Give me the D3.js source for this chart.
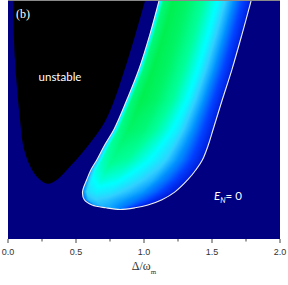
<!DOCTYPE html>
<html>
<head>
<meta charset="utf-8">
<script src="https://cdn.jsdelivr.net/npm/d3@7"></script>
<style>
  body { margin: 0; background: #fff; }
  svg { display: block; }
</style>
</head>
<body>
<svg id="chart" width="288" height="285"></svg>
<script>
// x: detuning Delta/omega_m ; y: normalised vertical position (no labels on that axis)
var xTicks = [0, 0.5, 1.0, 1.5, 2.0],
    xMinorTicks = [0.25, 0.75, 1.25, 1.75];

// black "unstable" region, left and right edges at each level
var unstableLevels = [1.0, 0.755, 0.502, 0.376, 0.291, 0.249],
    unstableLeft = [0.037, 0.051, 0.088, 0.118, 0.176, 0.235],
    unstableRight = [1.007, 0.882, 0.721, 0.566, 0.434, 0.360],
    unstableBottom = [0.294, 0.232];

// E_N > 0 region, white contour edges at each level and peak strength
var enLevels = [1.0, 0.861, 0.713, 0.586, 0.460, 0.397, 0.333, 0.291, 0.249, 0.198, 0.165, 0.143, 0.131],
    enLeft = [1.110, 1.044, 0.963, 0.875, 0.779, 0.713, 0.654, 0.610, 0.579, 0.548, 0.561, 0.618, 0.720],
    enRight = [1.787, 1.721, 1.647, 1.576, 1.508, 1.474, 1.430, 1.382, 1.322, 1.228, 1.132, 1.029, 0.934],
    enPeak = [1.0, 1.0, 1.0, 1.0, 0.95, 0.9, 0.85, 0.8, 0.74, 0.64, 0.55, 0.5, 0.45],
    enBottom = [0.824, 0.124];

// shape of E_N across the band (0 = left contour, 1 = right contour)
var profilePos = [0, 0.05, 0.15, 0.3, 0.5, 0.65, 0.8, 0.9, 1],
    profileVal = [0.55, 0.9, 1.0, 0.95, 0.8, 0.66, 0.42, 0.22, 0.06];

var colorStops = [0, 0.2, 0.4, 0.55, 0.68, 0.82, 1],
    colorList = ['#0010d0', '#0040ff', '#0090ff', '#30d0ff', '#00ffff', '#00ff9a', '#00f050'];

var svg = d3.select('#chart'),
    plotL = 8, plotR = 280, plotT = 1, plotB = 239;

var x = d3.scaleLinear().domain([0, 2]).range([plotL, plotR]),
    y = d3.scaleLinear().domain([0, 1]).range([plotB, plotT]);

var color = d3.scaleLinear().domain(colorStops).range(colorList).clamp(true),
    profile = d3.scaleLinear().domain(profilePos).range(profileVal).clamp(true),
    leftAt = d3.scaleLinear().domain(enLevels).range(enLeft).clamp(true),
    rightAt = d3.scaleLinear().domain(enLevels).range(enRight).clamp(true),
    peakAt = d3.scaleLinear().domain(enLevels).range(enPeak).clamp(true);

var defs = svg.append('defs');
defs.append('clipPath').attr('id', 'plotClip')
    .append('rect')
    .attr('x', plotL).attr('y', plotT)
    .attr('width', plotR - plotL).attr('height', plotB - plotT);

var plot = svg.append('g').attr('clip-path', 'url(#plotClip)');

plot.append('rect')
    .attr('x', plotL).attr('y', plotT)
    .attr('width', plotR - plotL).attr('height', plotB - plotT)
    .style('fill', '#000080');

// outline = left edge going down, bottom point, right edge going up
function outline(levels, lefts, rights, bottomPt) {
    var pts = [];
    levels.forEach(function(l, i) { pts.push([x(lefts[i]), y(l)]); });
    pts.push([x(bottomPt[0]), y(bottomPt[1])]);
    for (var i = levels.length - 1; i >= 0; i--) pts.push([x(rights[i]), y(levels[i])]);
    return pts;
}

var curve = d3.line().curve(d3.curveCatmullRom.alpha(0.5));

var unstablePts = outline(unstableLevels, unstableLeft, unstableRight, unstableBottom);
plot.append('path')
    .attr('d', curve(unstablePts) + 'Z')
    .style('fill', '#000');

// heat map of E_N drawn pixel by pixel, then clipped to the contour
var w = plotR - plotL, h = plotB - plotT,
    canvas = document.createElement('canvas');
canvas.width = w;
canvas.height = h;
var ctx = canvas.getContext('2d'),
    img = ctx.createImageData(w, h);

for (var j = 0; j < h; j++) {
    var yn = y.invert(plotT + j + 0.5),
        L = leftAt(yn), R = rightAt(yn), A = peakAt(yn);
    for (var i = 0; i < w; i++) {
        var d = x.invert(plotL + i + 0.5),
            t = (d - L) / (R - L),
            c = d3.rgb(color(A * profile(t))),
            k = (j * w + i) * 4;
        img.data[k] = c.r;
        img.data[k + 1] = c.g;
        img.data[k + 2] = c.b;
        img.data[k + 3] = 255;
    }
}
ctx.putImageData(img, 0, 0);

var enPts = outline(enLevels, enLeft, enRight, enBottom),
    enPath = curve(enPts);

defs.append('clipPath').attr('id', 'enClip')
    .append('path').attr('d', enPath + 'Z');

plot.append('image')
    .attr('x', plotL).attr('y', plotT)
    .attr('width', w).attr('height', h)
    .attr('preserveAspectRatio', 'none')
    .attr('href', canvas.toDataURL())
    .attr('clip-path', 'url(#enClip)');

plot.append('path')
    .attr('d', enPath)
    .style('fill', 'none')
    .style('stroke', '#f0f0f0')
    .style('stroke-width', '1.1px');

// top border
svg.append('line')
    .attr('x1', plotL).attr('x2', plotR)
    .attr('y1', 0.5).attr('y2', 0.5)
    .style('stroke', '#8a8a8a')
    .style('stroke-width', '1px');

// x axis
var axis = svg.append('g').attr('transform', 'translate(0,' + plotB + ')');
axis.selectAll('.major').data(xTicks).enter().append('line')
    .attr('x1', function(d) { return x(d); }).attr('x2', function(d) { return x(d); })
    .attr('y1', 0).attr('y2', 4)
    .style('stroke', '#444').style('stroke-width', '1px');
axis.selectAll('.minor').data(xMinorTicks).enter().append('line')
    .attr('x1', function(d) { return x(d); }).attr('x2', function(d) { return x(d); })
    .attr('y1', 0).attr('y2', 2.5)
    .style('stroke', '#444').style('stroke-width', '1px');
axis.selectAll('text').data(xTicks).enter().append('text')
    .attr('x', function(d) { return x(d); })
    .attr('y', 16)
    .attr('text-anchor', 'middle')
    .style('font-family', 'Liberation Sans, Arial, sans-serif')
    .style('font-size', '9px')
    .style('fill', '#333')
    .text(function(d) { return d3.format('.1f')(d); });

var title = svg.append('text')
    .attr('x', 144).attr('y', 270)
    .attr('text-anchor', 'middle')
    .style('font-family', 'Liberation Serif, serif')
    .style('font-size', '12px')
    .style('fill', '#333');
title.append('tspan').text('\u0394/\u03c9');
title.append('tspan').attr('dy', 4).style('font-size', '7px').text('m');

// labels inside the plot
svg.append('text')
    .attr('x', 16).attr('y', 18)
    .style('font-family', 'Liberation Serif, serif')
    .style('font-size', '12px')
    .style('fill', '#fff')
    .text('(b)');

svg.append('text')
    .attr('x', 60).attr('y', 81)
    .attr('text-anchor', 'middle')
    .style('font-family', 'Lato, sans-serif')
    .style('font-size', '11.5px')
    .style('fill', '#fff')
    .text('unstable');

var en = svg.append('text')
    .attr('x', 214).attr('y', 200)
    .style('font-family', 'Lato, sans-serif')
    .style('font-size', '11.5px')
    .style('fill', '#fff');
en.append('tspan').style('font-style', 'italic').text('E');
en.append('tspan').attr('dy', 3).style('font-size', '7.5px').style('font-style', 'italic').text('N');
en.append('tspan').attr('dy', -3).text('= 0');
</script>
</body>
</html>
